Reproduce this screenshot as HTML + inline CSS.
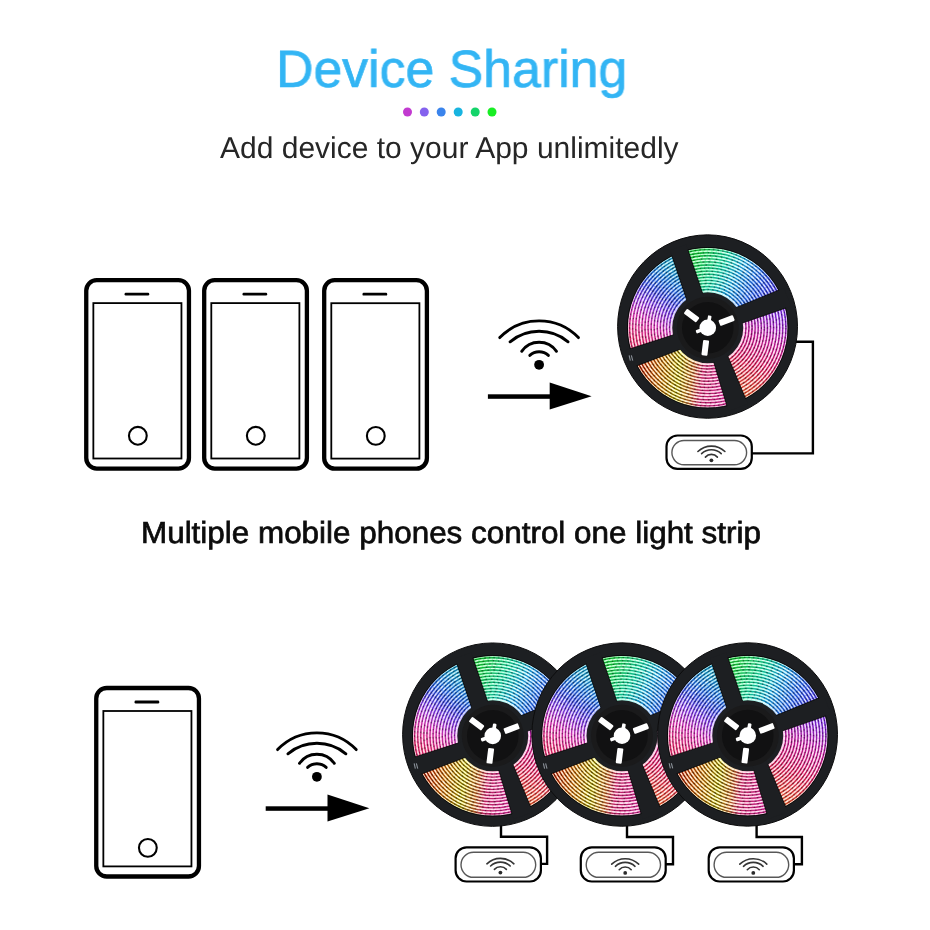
<!DOCTYPE html>
<html><head><meta charset="utf-8"><style>
html,body{margin:0;padding:0;background:#fff;}
body{width:930px;height:930px;position:relative;overflow:hidden;font-family:"Liberation Sans",sans-serif;}
.t{position:absolute;white-space:nowrap;line-height:1;margin:0;will-change:transform;text-rendering:geometricPrecision;}
#title{left:276px;top:43.7px;color:#33b5f4;font-size:52.5px;transform:scaleX(0.9867);transform-origin:0 0;-webkit-text-stroke:0.7px #33b5f4;}
#sub{left:220.3px;top:134px;color:#262626;font-size:30px;}
#mid{left:141px;top:517.8px;color:#0c0c0c;font-size:30.5px;transform:scaleX(1.030);transform-origin:0 0;-webkit-text-stroke:0.7px #0c0c0c;}
</style></head><body>
<svg width="930" height="930" viewBox="0 0 930 930" style="position:absolute;left:0;top:0">
<defs>
<linearGradient id="gTLL" gradientUnits="userSpaceOnUse" x1="-20" y1="-50" x2="-62" y2="18"><stop offset="0" stop-color="#90e2f2"/><stop offset="0.2" stop-color="#92c2fa"/><stop offset="0.36" stop-color="#a4a6ff"/><stop offset="0.52" stop-color="#dcbcff"/><stop offset="0.72" stop-color="#ffc4f0"/><stop offset="1" stop-color="#ffb4cc"/></linearGradient><linearGradient id="gTLD" gradientUnits="userSpaceOnUse" x1="-20" y1="-50" x2="-62" y2="18"><stop offset="0" stop-color="#107aa8"/><stop offset="0.2" stop-color="#1858c0"/><stop offset="0.36" stop-color="#2a38b8"/><stop offset="0.52" stop-color="#7030d0"/><stop offset="0.72" stop-color="#c02ca8"/><stop offset="1" stop-color="#d02060"/></linearGradient><clipPath id="wTL"><path d="M0 0L-122.69 42.97L-129.65 9.5L-127.65 -24.62L-116.82 -57.04L-97.91 -85.52L-72.24 -108.08L-41.57 -123.17Z"/></clipPath><linearGradient id="gTRL" gradientUnits="userSpaceOnUse" x1="-15" y1="-65" x2="60" y2="-20"><stop offset="0" stop-color="#90ffa8"/><stop offset="0.3" stop-color="#a0ffe0"/><stop offset="0.5" stop-color="#bcf6ff"/><stop offset="0.75" stop-color="#9cbcff"/><stop offset="1" stop-color="#aca4ff"/></linearGradient><linearGradient id="gTRD" gradientUnits="userSpaceOnUse" x1="-15" y1="-65" x2="60" y2="-20"><stop offset="0" stop-color="#10b030"/><stop offset="0.3" stop-color="#10b890"/><stop offset="0.5" stop-color="#1890c8"/><stop offset="0.75" stop-color="#1c50c8"/><stop offset="1" stop-color="#3820c0"/></linearGradient><clipPath id="wTR"><path d="M0 0L-41.57 -123.17L-9.05 -129.68L24.06 -127.75L55.61 -117.51L83.53 -99.61L106.02 -75.23L121.61 -45.95Z"/></clipPath><linearGradient id="gBRL" gradientUnits="userSpaceOnUse" x1="70" y1="-15" x2="30" y2="70"><stop offset="0" stop-color="#d8b4ff"/><stop offset="0.3" stop-color="#ffbcec"/><stop offset="0.6" stop-color="#ffbcd8"/><stop offset="1" stop-color="#ffcca4"/></linearGradient><linearGradient id="gBRD" gradientUnits="userSpaceOnUse" x1="70" y1="-15" x2="30" y2="70"><stop offset="0" stop-color="#6a20c8"/><stop offset="0.3" stop-color="#b01890"/><stop offset="0.6" stop-color="#c81850"/><stop offset="1" stop-color="#d05020"/></linearGradient><clipPath id="wBR"><path d="M0 0L121.61 -45.95L129.39 -12.57L128.18 21.68L118.06 54.43L99.73 83.39L74.47 106.55L44.04 122.31Z"/></clipPath><linearGradient id="gBLL" gradientUnits="userSpaceOnUse" x1="-66" y1="40" x2="16" y2="50"><stop offset="0" stop-color="#ffb48c"/><stop offset="0.22" stop-color="#ffdc9c"/><stop offset="0.45" stop-color="#ffff9c"/><stop offset="0.62" stop-color="#ffdcac"/><stop offset="0.74" stop-color="#ffc4dc"/><stop offset="1" stop-color="#ffbce4"/></linearGradient><linearGradient id="gBLD" gradientUnits="userSpaceOnUse" x1="-66" y1="40" x2="16" y2="50"><stop offset="0" stop-color="#901800"/><stop offset="0.22" stop-color="#a05000"/><stop offset="0.45" stop-color="#807000"/><stop offset="0.62" stop-color="#a05020"/><stop offset="0.74" stop-color="#b82060"/><stop offset="1" stop-color="#c02080"/></linearGradient><clipPath id="wBL"><path d="M0 0L44.04 122.31L10.69 129.56L-23.39 127.88L-55.86 117.38L-84.49 98.8L-107.29 73.41L-122.69 42.97Z"/></clipPath>
<clipPath id="ringclip"><path d="M80 0A80 80 0 1 1 -80 0A80 80 0 1 1 80 0ZM35.5 0A35.5 35.5 0 1 0 -35.5 0A35.5 35.5 0 1 0 35.5 0Z" clip-rule="evenodd"/></clipPath>
<clipPath id="ringclip2"><path d="M80.6 0A80.6 80.6 0 1 1 -80.6 0A80.6 80.6 0 1 1 80.6 0ZM35.1 0A35.1 35.1 0 1 0 -35.1 0A35.1 35.1 0 1 0 35.1 0Z" clip-rule="evenodd"/></clipPath>
<g id="reel">
 <ellipse cx="-0.2" cy="-1.2" rx="89.95" ry="91.7" fill="#1d1f22" stroke="#0c0c0d" stroke-width="1"/>
 <g clip-path="url(#ringclip)">
  <g clip-path="url(#wTL)"><path d="M0 0L-122.69 42.97L-129.65 9.5L-127.65 -24.62L-116.82 -57.04L-97.91 -85.52L-72.24 -108.08L-41.57 -123.17Z" fill="url(#gTLL)"/><g fill="none" stroke="url(#gTLD)" stroke-width="1.4"><circle r="38.2"/><circle r="41.27"/><circle r="44.34"/><circle r="47.41"/><circle r="50.49"/><circle r="53.56"/><circle r="56.63"/><circle r="59.7"/><circle r="62.77"/><circle r="65.84"/><circle r="68.91"/><circle r="71.99"/><circle r="75.06"/><circle r="78.13"/></g></g><g clip-path="url(#wTR)"><path d="M0 0L-41.57 -123.17L-9.05 -129.68L24.06 -127.75L55.61 -117.51L83.53 -99.61L106.02 -75.23L121.61 -45.95Z" fill="url(#gTRL)"/><g fill="none" stroke="url(#gTRD)" stroke-width="1.4"><circle r="38.2"/><circle r="41.27"/><circle r="44.34"/><circle r="47.41"/><circle r="50.49"/><circle r="53.56"/><circle r="56.63"/><circle r="59.7"/><circle r="62.77"/><circle r="65.84"/><circle r="68.91"/><circle r="71.99"/><circle r="75.06"/><circle r="78.13"/></g></g><g clip-path="url(#wBR)"><path d="M0 0L121.61 -45.95L129.39 -12.57L128.18 21.68L118.06 54.43L99.73 83.39L74.47 106.55L44.04 122.31Z" fill="url(#gBRL)"/><g fill="none" stroke="url(#gBRD)" stroke-width="1.4"><circle r="38.2"/><circle r="41.27"/><circle r="44.34"/><circle r="47.41"/><circle r="50.49"/><circle r="53.56"/><circle r="56.63"/><circle r="59.7"/><circle r="62.77"/><circle r="65.84"/><circle r="68.91"/><circle r="71.99"/><circle r="75.06"/><circle r="78.13"/></g></g><g clip-path="url(#wBL)"><path d="M0 0L44.04 122.31L10.69 129.56L-23.39 127.88L-55.86 117.38L-84.49 98.8L-107.29 73.41L-122.69 42.97Z" fill="url(#gBLL)"/><g fill="none" stroke="url(#gBLD)" stroke-width="1.4"><circle r="38.2"/><circle r="41.27"/><circle r="44.34"/><circle r="47.41"/><circle r="50.49"/><circle r="53.56"/><circle r="56.63"/><circle r="59.7"/><circle r="62.77"/><circle r="65.84"/><circle r="68.91"/><circle r="71.99"/><circle r="75.06"/><circle r="78.13"/></g></g>
  <g fill="none" stroke="#fff" stroke-width="1.1"><circle r="36.7" stroke-dasharray="3.0 0.9" stroke-dashoffset="2.6" stroke-opacity="0.7"/><circle r="39.77" stroke-dasharray="2.2 1.5" stroke-dashoffset="1.46" stroke-opacity="0.4"/><circle r="42.84" stroke-dasharray="2.2 1.5" stroke-dashoffset="0.15" stroke-opacity="0.5"/><circle r="45.91" stroke-dasharray="3.4 1.2" stroke-dashoffset="0.96" stroke-opacity="0.4"/><circle r="48.99" stroke-dasharray="3.4 0.9" stroke-dashoffset="3.79" stroke-opacity="0.4"/><circle r="52.06" stroke-dasharray="2.2 1.5" stroke-dashoffset="0.2" stroke-opacity="0.7"/><circle r="55.13" stroke-dasharray="2.6 0.9" stroke-dashoffset="1.16" stroke-opacity="0.5"/><circle r="58.2" stroke-dasharray="2.6 1.5" stroke-dashoffset="2.28" stroke-opacity="0.4"/><circle r="61.27" stroke-dasharray="2.6 0.9" stroke-dashoffset="1.49" stroke-opacity="0.5"/><circle r="64.34" stroke-dasharray="2.2 1.5" stroke-dashoffset="2.48" stroke-opacity="0.4"/><circle r="67.41" stroke-dasharray="3.4 1.5" stroke-dashoffset="3.11" stroke-opacity="0.7"/><circle r="70.49" stroke-dasharray="3.4 1.5" stroke-dashoffset="1.45" stroke-opacity="0.7"/><circle r="73.56" stroke-dasharray="2.6 0.9" stroke-dashoffset="0.33" stroke-opacity="0.5"/><circle r="76.63" stroke-dasharray="3.0 1.5" stroke-dashoffset="3.5" stroke-opacity="0.7"/><circle r="79.7" stroke-dasharray="3.4 1.2" stroke-dashoffset="0.47" stroke-opacity="0.4"/></g>
  <g fill="none" stroke="#000" stroke-opacity="0.35" stroke-width="1.4"><circle r="38.2" stroke-dasharray="1.6 3" stroke-dashoffset="4.54"/><circle r="41.27" stroke-dasharray="1.2 4" stroke-dashoffset="2.53"/><circle r="44.34" stroke-dasharray="2 3" stroke-dashoffset="4.59"/><circle r="47.41" stroke-dasharray="2 4" stroke-dashoffset="2.04"/><circle r="50.49" stroke-dasharray="1.6 6" stroke-dashoffset="2.98"/><circle r="53.56" stroke-dasharray="1.6 3" stroke-dashoffset="5.04"/><circle r="56.63" stroke-dasharray="1.6 4" stroke-dashoffset="4.18"/><circle r="59.7" stroke-dasharray="1.2 3" stroke-dashoffset="4.39"/><circle r="62.77" stroke-dasharray="1.6 6" stroke-dashoffset="3.47"/><circle r="65.84" stroke-dasharray="2 4" stroke-dashoffset="1.71"/><circle r="68.91" stroke-dasharray="1.6 6" stroke-dashoffset="2.08"/><circle r="71.99" stroke-dasharray="1.6 4" stroke-dashoffset="1.01"/><circle r="75.06" stroke-dasharray="1.2 4" stroke-dashoffset="0.35"/><circle r="78.13" stroke-dasharray="1.6 3" stroke-dashoffset="4.43"/></g>
 </g>
 <circle r="80.3" fill="none" stroke="#000" stroke-opacity="0.75" stroke-width="1"/>
 <path d="M-19.36 -22.92L-37.67 -77.31L-21.61 -83.24L-3.54 -29.79ZM23.77 -18.31L76.24 -39.79L83.25 -21.58L29.85 -3.03ZM4.55 29.65L20.77 83.46L40.07 76.09L18.16 23.88ZM-29.49 5.5L-82.93 22.78L-76.12 40.02L-22.61 19.72Z" fill="#1d1f22"/>
 <path d="M-19.36 -22.92L-37.67 -77.31M-3.54 -29.79L-21.61 -83.24M23.77 -18.31L76.24 -39.79M29.85 -3.03L83.25 -21.58M4.55 29.65L20.77 83.46M18.16 23.88L40.07 76.09M-29.49 5.5L-82.93 22.78M-22.61 19.72L-76.12 40.02" fill="none" stroke="#000" stroke-opacity="0.75" stroke-width="1" clip-path="url(#ringclip2)"/>
 <circle r="31" fill="#1a1a1b"/>
 <circle r="25.8" fill="#111112"/>
 <rect x="12.5" y="-3" width="15.4" height="6" rx="1" fill="#fff" transform="rotate(-143)"/><rect x="12.5" y="-3" width="15.4" height="6" rx="1" fill="#fff" transform="rotate(-21)"/><rect x="12.5" y="-3" width="15.4" height="6" rx="1" fill="#fff" transform="rotate(97)"/>
 <circle r="8.3" fill="#fff"/>
 <rect x="6" y="-1.8" width="6.4" height="3.6" rx="1" fill="#fff" transform="rotate(-80)"/>
 <rect x="6" y="-1.8" width="6.4" height="3.6" rx="1" fill="#fff" transform="rotate(160)"/>
 <path d="M-78.6 27.6l1.2 5.2M-76.4 27.6l1.4 5.2" stroke="#8a9098" stroke-width="1.1" fill="none"/>
</g></defs>
<g fill="#000">
<circle cx="407.5" cy="112" r="4.5" fill="#c23ad0"/>
<circle cx="424.3" cy="112" r="4.5" fill="#8462ee"/>
<circle cx="441.2" cy="112" r="4.5" fill="#3a84ec"/>
<circle cx="458.2" cy="112" r="4.5" fill="#18b4e0"/>
<circle cx="475.2" cy="112" r="4.5" fill="#14d46a"/>
<circle cx="492" cy="112" r="4.5" fill="#18ee24"/>
</g>
<g transform="translate(86.25 280.1)">
<rect x="0" y="0" width="102.7" height="188.5" rx="10.5" fill="#fff" stroke="#000" stroke-width="4.3"/>
<rect x="7.1" y="23" width="88.1" height="155.4" fill="none" stroke="#000" stroke-width="1.8"/>
<rect x="38.3" y="12.6" width="24.7" height="2.8" rx="1.2" fill="#000"/>
<circle cx="51.6" cy="155.7" r="8.9" fill="none" stroke="#000" stroke-width="2.1"/>
</g>
<g transform="translate(204.2 280.1)">
<rect x="0" y="0" width="102.7" height="188.5" rx="10.5" fill="#fff" stroke="#000" stroke-width="4.3"/>
<rect x="7.1" y="23" width="88.1" height="155.4" fill="none" stroke="#000" stroke-width="1.8"/>
<rect x="38.3" y="12.6" width="24.7" height="2.8" rx="1.2" fill="#000"/>
<circle cx="51.6" cy="155.7" r="8.9" fill="none" stroke="#000" stroke-width="2.1"/>
</g>
<g transform="translate(324.2 280.2)">
<rect x="0" y="0" width="102.7" height="188.5" rx="10.5" fill="#fff" stroke="#000" stroke-width="4.3"/>
<rect x="7.1" y="23" width="88.1" height="155.4" fill="none" stroke="#000" stroke-width="1.8"/>
<rect x="38.3" y="12.6" width="24.7" height="2.8" rx="1.2" fill="#000"/>
<circle cx="51.6" cy="155.7" r="8.9" fill="none" stroke="#000" stroke-width="2.1"/>
</g>
<g transform="translate(96.25 688)">
<rect x="0" y="0" width="102.7" height="188.5" rx="10.5" fill="#fff" stroke="#000" stroke-width="4.3"/>
<rect x="7.1" y="23" width="88.1" height="155.4" fill="none" stroke="#000" stroke-width="1.8"/>
<rect x="38.3" y="12.6" width="24.7" height="2.8" rx="1.2" fill="#000"/>
<circle cx="51.6" cy="159.85" r="8.9" fill="none" stroke="#000" stroke-width="2.1"/>
</g>
<g transform="translate(539.1 364.8)"><path d="M-39.3 -27.2A54.6 54.6 0 0 1 39.3 -27.2" fill="none" stroke="#000" stroke-width="2.9" stroke-linecap="round"/><path d="M-29 -23A45.3 45.3 0 0 1 29 -23" fill="none" stroke="#000" stroke-width="2.9" stroke-linecap="round"/><path d="M-17.4 -13.5A21.2 21.2 0 0 1 17.4 -13.5" fill="none" stroke="#000" stroke-width="2.9" stroke-linecap="round"/><path d="M-9.3 -9.4A13.5 13.5 0 0 1 9.3 -9.4" fill="none" stroke="#000" stroke-width="2.9" stroke-linecap="round"/><circle cx="0" cy="0" r="4.9" fill="#000"/><rect x="-51.2" y="29.5" width="63" height="4.5" fill="#000"/><path d="M10.6 17.6L52.5 31.4L10.6 44.8Z" fill="#000"/></g>
<g transform="translate(316.9 776.8)"><path d="M-39.3 -27.2A54.6 54.6 0 0 1 39.3 -27.2" fill="none" stroke="#000" stroke-width="2.9" stroke-linecap="round"/><path d="M-29 -23A45.3 45.3 0 0 1 29 -23" fill="none" stroke="#000" stroke-width="2.9" stroke-linecap="round"/><path d="M-17.4 -13.5A21.2 21.2 0 0 1 17.4 -13.5" fill="none" stroke="#000" stroke-width="2.9" stroke-linecap="round"/><path d="M-9.3 -9.4A13.5 13.5 0 0 1 9.3 -9.4" fill="none" stroke="#000" stroke-width="2.9" stroke-linecap="round"/><circle cx="0" cy="0" r="4.9" fill="#000"/><rect x="-51.2" y="29.5" width="63" height="4.5" fill="#000"/><path d="M10.6 17.6L52.5 31.4L10.6 44.8Z" fill="#000"/></g>
<path d="M795 341.8L812.9 341.8L812.9 453.4L751 453.4" fill="none" stroke="#000" stroke-width="2.4" stroke-linejoin="miter"/>
<use href="#reel" x="707.75" y="327.75"/>
<rect x="666.5" y="435.5" width="85.3" height="33.4" rx="11" fill="#fff" stroke="#000" stroke-width="2.2"/><rect x="671.9" y="440.5" width="74.7" height="24.2" rx="12.1" fill="none" stroke="#585858" stroke-width="1.4"/><g transform="translate(711.4 460.3)"><path d="M-13.5 -8.8A19.6 19.6 0 0 1 13.5 -8.8" fill="none" stroke="#353535" stroke-width="1.6" stroke-linecap="round"/><path d="M-9.8 -6.6A14.3 14.3 0 0 1 9.8 -6.6" fill="none" stroke="#353535" stroke-width="1.6" stroke-linecap="round"/><path d="M-6 -3.2A8 8 0 0 1 6 -3.2" fill="none" stroke="#353535" stroke-width="1.6" stroke-linecap="round"/><circle cx="0" cy="0" r="1.9" fill="#2a2a2a"/></g>
<path d="M501 824L501 836.8L547.1 836.8L547.1 863.9L541 863.9" fill="none" stroke="#000" stroke-width="2.4" stroke-linejoin="miter"/>
<path d="M627 824L627 837L673 837L673 864.2L666 864.2" fill="none" stroke="#000" stroke-width="2.4" stroke-linejoin="miter"/>
<path d="M756.6 824L756.6 837L801.9 837L801.9 864.2L794 864.2" fill="none" stroke="#000" stroke-width="2.4" stroke-linejoin="miter"/>
<use href="#reel" x="492.75" y="735.85"/>
<use href="#reel" x="622" y="735.75"/>
<use href="#reel" x="747.75" y="735.65"/>
<rect x="455.6" y="847.3" width="85.3" height="34.2" rx="11" fill="#fff" stroke="#000" stroke-width="2.2"/><rect x="461" y="852.3" width="74.7" height="25" rx="12.5" fill="none" stroke="#585858" stroke-width="1.4"/><g transform="translate(500.4 872.6)"><path d="M-13.5 -8.8A19.6 19.6 0 0 1 13.5 -8.8" fill="none" stroke="#353535" stroke-width="1.6" stroke-linecap="round"/><path d="M-9.8 -6.6A14.3 14.3 0 0 1 9.8 -6.6" fill="none" stroke="#353535" stroke-width="1.6" stroke-linecap="round"/><path d="M-6 -3.2A8 8 0 0 1 6 -3.2" fill="none" stroke="#353535" stroke-width="1.6" stroke-linecap="round"/><circle cx="0" cy="0" r="1.9" fill="#2a2a2a"/></g>
<rect x="580.8" y="847.3" width="84.9" height="34.2" rx="11" fill="#fff" stroke="#000" stroke-width="2.2"/><rect x="586.2" y="852.3" width="74.3" height="25" rx="12.5" fill="none" stroke="#585858" stroke-width="1.4"/><g transform="translate(625.2 872.9)"><path d="M-13.5 -8.8A19.6 19.6 0 0 1 13.5 -8.8" fill="none" stroke="#353535" stroke-width="1.6" stroke-linecap="round"/><path d="M-9.8 -6.6A14.3 14.3 0 0 1 9.8 -6.6" fill="none" stroke="#353535" stroke-width="1.6" stroke-linecap="round"/><path d="M-6 -3.2A8 8 0 0 1 6 -3.2" fill="none" stroke="#353535" stroke-width="1.6" stroke-linecap="round"/><circle cx="0" cy="0" r="1.9" fill="#2a2a2a"/></g>
<rect x="708.7" y="847.3" width="85.2" height="34.2" rx="11" fill="#fff" stroke="#000" stroke-width="2.2"/><rect x="714.1" y="852.3" width="74.6" height="25" rx="12.5" fill="none" stroke="#585858" stroke-width="1.4"/><g transform="translate(753.3 872.9)"><path d="M-13.5 -8.8A19.6 19.6 0 0 1 13.5 -8.8" fill="none" stroke="#353535" stroke-width="1.6" stroke-linecap="round"/><path d="M-9.8 -6.6A14.3 14.3 0 0 1 9.8 -6.6" fill="none" stroke="#353535" stroke-width="1.6" stroke-linecap="round"/><path d="M-6 -3.2A8 8 0 0 1 6 -3.2" fill="none" stroke="#353535" stroke-width="1.6" stroke-linecap="round"/><circle cx="0" cy="0" r="1.9" fill="#2a2a2a"/></g>
</svg>
<div class="t" id="title">Device Sharing</div>
<div class="t" id="sub">Add device to your App unlimitedly</div>
<div class="t" id="mid">Multiple mobile phones control one light strip</div>
</body></html>
